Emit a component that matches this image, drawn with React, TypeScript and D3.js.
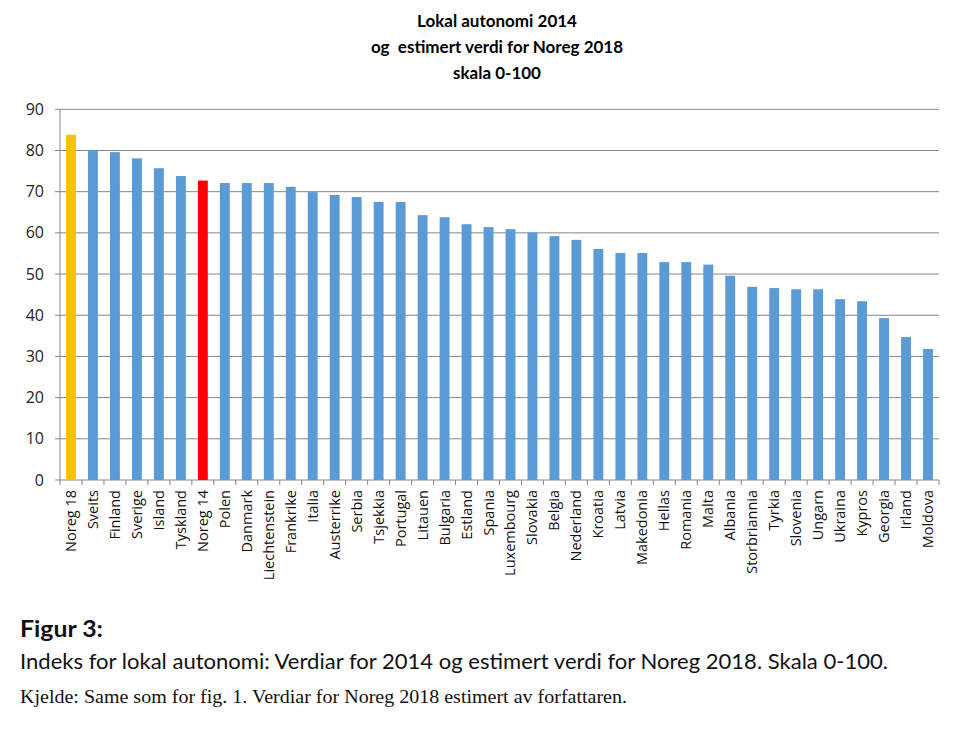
import React from "react";
import * as d3 from "d3";

const countries = [
  "Noreg 18", "Sveits", "Finland", "Sverige", "Island", "Tyskland", "Noreg 14", "Polen",
  "Danmark", "Liechtenstein", "Frankrike", "Italia", "Austerrike", "Serbia", "Tsjekkia",
  "Portugal", "Litauen", "Bulgaria", "Estland", "Spania", "Luxembourg", "Slovakia", "Belgia",
  "Nederland", "Kroatia", "Latvia", "Makedonia", "Hellas", "Romania", "Malta", "Albania",
  "Storbriannia", "Tyrkia", "Slovenia", "Ungarn", "Ukraina", "Kypros", "Georgia", "Irland", "Moldova",
];
const values = [
  83.8, 80.1, 79.6, 78.1, 75.7, 73.8, 72.7, 72.1,
  72.1, 72.1, 71.2, 69.9, 69.2, 68.7, 67.5,
  67.5, 64.3, 63.8, 62.1, 61.4, 60.9, 60.1, 59.2,
  58.3, 56.1, 55.1, 55.1, 52.9, 52.9, 52.3, 49.6,
  46.9, 46.6, 46.3, 46.3, 43.9, 43.4, 39.3, 34.7, 31.8,
];
const yTicks = [0, 10, 20, 30, 40, 50, 60, 70, 80, 90];
const titleLines = ["Lokal autonomi 2014", "og  estimert verdi for Noreg 2018", "skala 0-100"];
const highlight: Record<string, string> = { "Noreg 18": "#FFC000", "Noreg 14": "#FF0000" };

export default function App() {
  const left = 60, right = 939, top = 109.3, bottom = 480;
  const x = d3.scaleBand<string>().domain(countries).range([left, right]).paddingInner(0.55).paddingOuter(0.275);
  const xb = d3.scaleBand<string>().domain(countries).range([left, right]);
  const y = d3.scaleLinear().domain([0, 90]).range([bottom, top]);
  const grid = "#868686";
  return (
    <div style={{ position: "absolute", left: 0, top: 0 }}>
      <svg width={956} height={739} style={{ display: "block", background: "#fff" }}>
        {titleLines.map((t, i) => (
          <text key={i} x={497} y={27 + i * 26} textAnchor="middle" fontFamily="Lato, 'Open Sans', sans-serif"
            fontWeight="bold" fontSize={17} fill="#000" style={{ whiteSpace: "pre" }}>{t}</text>
        ))}
        {yTicks.map((t) => (
          <g key={t}>
            <line x1={left - 5} x2={right} y1={y(t)} y2={y(t)} stroke={grid} strokeWidth={1} />
            <text x={44} y={y(t) + 5.5} textAnchor="end" fontFamily="'Open Sans', sans-serif" fontSize={16} fill="#222">{t}</text>
          </g>
        ))}
        <line x1={left} x2={left} y1={top} y2={bottom} stroke={grid} strokeWidth={1} />
        {countries.map((c) => (
          <line key={"tk" + c} x1={(xb(c) as number)} x2={(xb(c) as number)} y1={bottom} y2={bottom + 5} stroke={grid} strokeWidth={1} />
        ))}
        <line x1={right} x2={right} y1={bottom} y2={bottom + 5} stroke={grid} strokeWidth={1} />
        {countries.map((c, i) => (
          <rect key={c} x={x(c)} y={y(values[i])} width={x.bandwidth()} height={bottom - y(values[i])}
            fill={highlight[c] || "#5B9BD5"} />
        ))}
        {countries.map((c) => {
          const cx = (xb(c) as number) + xb.bandwidth() / 2 + 5;
          return (
            <text key={"l" + c} transform={`translate(${cx},${bottom + 10}) rotate(-90)`} textAnchor="end"
              fontFamily="'Open Sans', sans-serif" fontSize={14.5} fill="#111">{c}</text>
          );
        })}
        <text x={20} y={637} fontFamily="Lato, sans-serif" fontWeight="bold" fontSize={22} fill="#111"
          textLength={83} lengthAdjust="spacingAndGlyphs">Figur 3:</text>
        <text x={20} y={669} fontFamily="Lato, sans-serif" fontSize={21} fill="#111"
          textLength={868} lengthAdjust="spacingAndGlyphs">Indeks for lokal autonomi: Verdiar for 2014 og estimert verdi for Noreg 2018. Skala 0-100.</text>
        <text x={20} y={703} fontFamily="'Liberation Serif', serif" fontSize={19} fill="#111"
          textLength={607} lengthAdjust="spacingAndGlyphs">Kjelde: Same som for fig. 1. Verdiar for Noreg 2018 estimert av forfattaren.</text>
      </svg>
    </div>
  );
}
